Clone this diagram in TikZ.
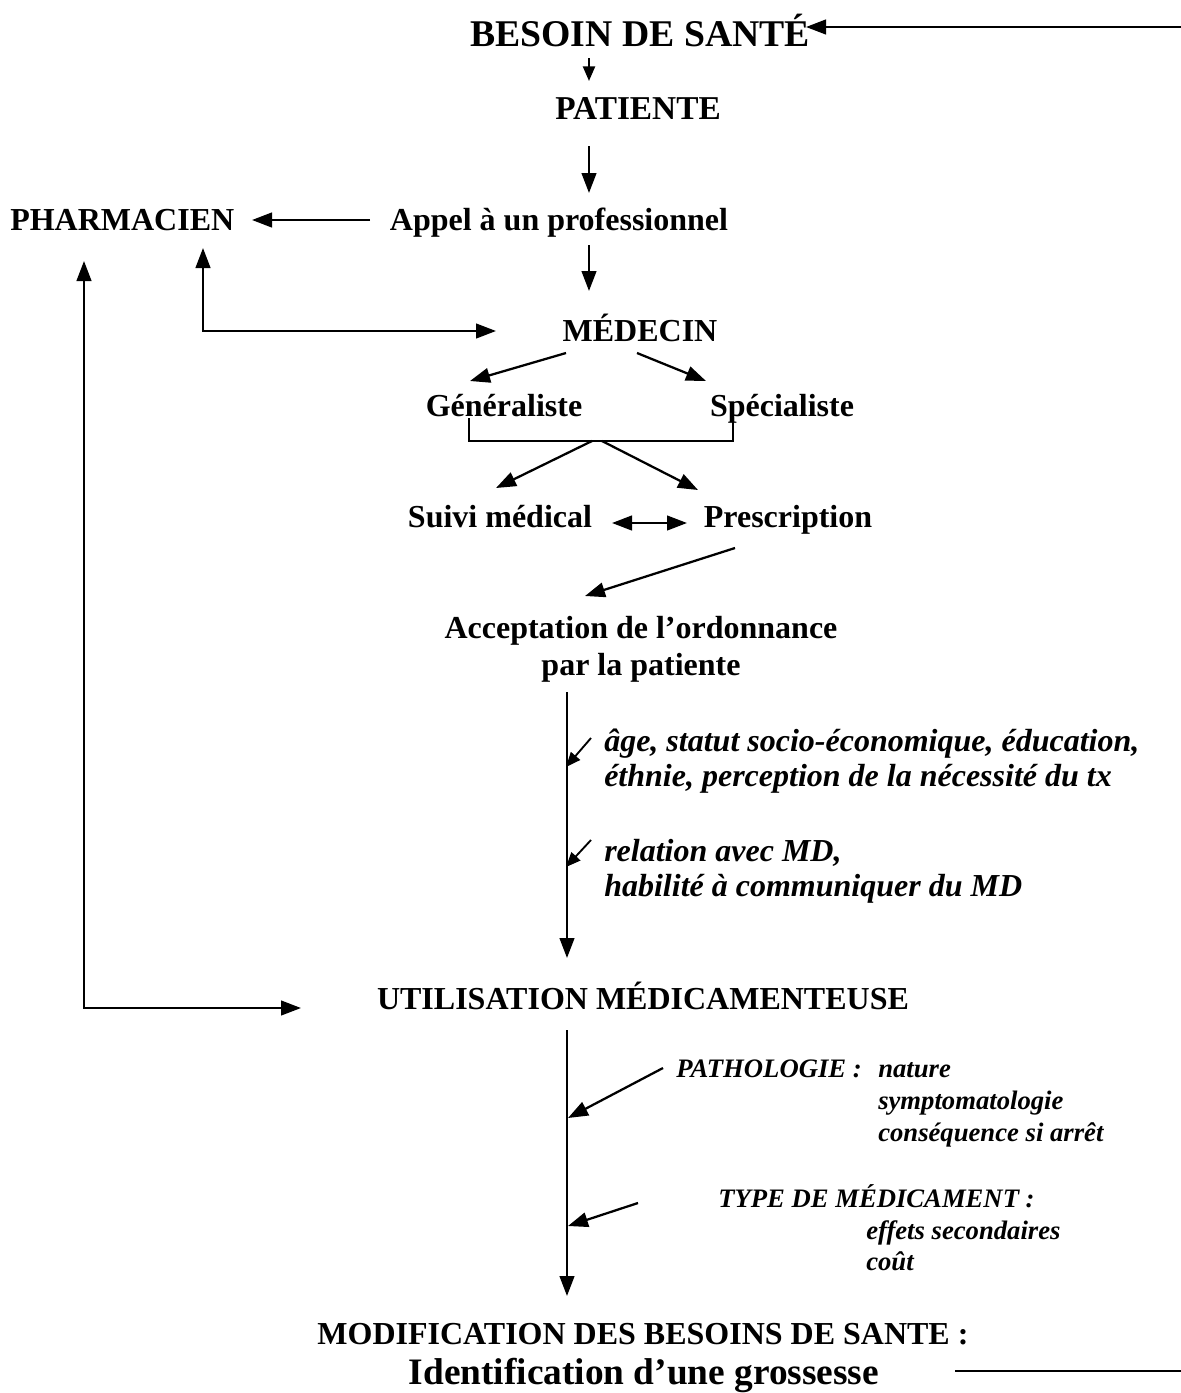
\documentclass[tikz,border=0pt]{standalone}
\usepackage{fontspec}
\setmainfont{Liberation Serif}
\usetikzlibrary{arrows.meta}
\begin{document}
\begin{tikzpicture}[x=0.75pt,y=-0.75pt,
  lbl/.style={inner sep=0pt, anchor=base, font=\bfseries\fontsize{24}{28}\selectfont},
  lblw/.style={lbl, anchor=base west},
  itl/.style={inner sep=0pt, anchor=base west, font=\bfseries\itshape\fontsize{24}{28}\selectfont},
  sitl/.style={inner sep=0pt, anchor=base west, font=\bfseries\itshape\fontsize{20}{24}\selectfont},
  conn/.style={line width=1.7pt},
  arr/.style={conn, -{Triangle[length=15pt,width=11pt]}},
  sarr/.style={conn, -{Triangle[length=11pt,width=9pt]}},
  darr/.style={conn, {Triangle[length=15pt,width=11pt]}-{Triangle[length=15pt,width=11pt]}}
]
\useasboundingbox (0,0) rectangle (1181,1393);
\fill[white] (0,0) rectangle (1181,1393);

% nodes
\node[lbl, font=\bfseries\fontsize{28.3}{33}\selectfont] (besoin) at (640,46) {BESOIN DE SANTÉ};
\node[lbl, font=\bfseries\fontsize{25}{29}\selectfont] (patiente) at (638,119) {PATIENTE};
\node[lbl] (appel) at (559,230) {Appel à un professionnel};
\node[lblw] (pharm) at (10,230) {PHARMACIEN};
\node[lbl] (medecin) at (640,341) {MÉDECIN};
\node[lbl] (gen) at (504,416) {Généraliste};
\node[lbl] (spec) at (782,416) {Spécialiste};
\node[lbl] (suivi) at (500,527) {Suivi médical};
\node[lbl] (presc) at (788,527) {Prescription};
\node[lbl] (accept) at (641,638) {Acceptation de l’ordonnance};
\node[lbl] (accept2) at (641,675) {par la patiente};
\node[itl] (f1) at (604,751) {âge, statut socio-économique, éducation,};
\node[itl] (f1b) at (604,786) {éthnie, perception de la nécessité du tx};
\node[itl] (f2) at (604,861) {relation avec MD,};
\node[itl] (f2b) at (604,896) {habilité à communiquer du MD};
\node[lbl] (util) at (643,1009) {UTILISATION MÉDICAMENTEUSE};
\node[sitl] (patho) at (676,1077) {PATHOLOGIE :};
\node[sitl] (p1) at (878,1077) {nature};
\node[sitl] (p2) at (878,1109) {symptomatologie};
\node[sitl] (p3) at (878,1141) {conséquence si arrêt};
\node[sitl] (type) at (718,1207) {TYPE DE MÉDICAMENT :};
\node[sitl] (t1) at (866,1239) {effets secondaires};
\node[sitl] (t2) at (866,1270) {coût};
\node[lbl] (modif) at (643,1344) {MODIFICATION DES BESOINS DE SANTE :};
\node[lbl, font=\bfseries\fontsize{28}{32}\selectfont] (ident) at (644,1384) {Identification d’une grossesse};

% coordinates for connector ends
\coordinate (topR) at (1181,27);
\coordinate (topT) at (806,27);
\coordinate (botR) at (1181,1371);
\coordinate (botL) at (955,1371);
\coordinate (b1) at (589,58);
\coordinate (b2) at (589,81);
\coordinate (p1s) at (589,146);
\coordinate (p1e) at (589,193);
\coordinate (ap1) at (370,220);
\coordinate (ap2) at (252,220);
\coordinate (ad1) at (589,245);
\coordinate (ad2) at (589,291);
\coordinate (ph1) at (203,248);
\coordinate (ph2) at (203,331);
\coordinate (ph3) at (496,331);
\coordinate (lf1) at (84,261);
\coordinate (lf2) at (84,1008);
\coordinate (lf3) at (301,1008);
\coordinate (m1) at (566,353);
\coordinate (m2) at (470,381);
\coordinate (m3) at (637,353);
\coordinate (m4) at (706,381);
\coordinate (brL) at (469,418);
\coordinate (brR) at (733,418);
\coordinate (brY) at (600,441);
\coordinate (bc) at (592,441);
\coordinate (bs) at (496,488);
\coordinate (bc2) at (602,441);
\coordinate (bp) at (698,490);
\coordinate (sp1) at (612,523);
\coordinate (sp2) at (687,523);
\coordinate (pa1) at (735,548);
\coordinate (pa2) at (585,596);
\coordinate (v1s) at (567,692);
\coordinate (v1e) at (567,958);
\coordinate (s1a) at (591,738);
\coordinate (s1b) at (566,767);
\coordinate (s2a) at (591,840);
\coordinate (s2b) at (566,867);
\coordinate (v2s) at (567,1030);
\coordinate (v2e) at (567,1296);
\coordinate (pt1) at (663,1068);
\coordinate (pt2) at (568,1118);
\coordinate (ty1) at (638,1203);
\coordinate (ty2) at (568,1226);

% connectors
\draw[arr] (topR) -- (topT);
\draw[conn] (botL) -- (botR);
\draw[sarr] (b1) -- (b2);
\draw[arr] (p1s) -- (p1e);
\draw[arr] (ap1) -- (ap2);
\draw[arr] (ad1) -- (ad2);
\draw[darr] (ph1) -- (ph2) -- (ph3);
\draw[darr] (lf1) -- (lf2) -- (lf3);
\draw[arr] (m1) -- (m2);
\draw[arr] (m3) -- (m4);
\draw[line width=1.3pt] (brL) |- (brY) -| (brR);
\draw[arr] (bc) -- (bs);
\draw[arr] (bc2) -- (bp);
\draw[darr] (sp1) -- (sp2);
\draw[arr] (pa1) -- (pa2);
\draw[arr] (v1s) -- (v1e);
\draw[sarr, line width=1.4pt] (s1a) -- (s1b);
\draw[sarr, line width=1.4pt] (s2a) -- (s2b);
\draw[arr] (v2s) -- (v2e);
\draw[arr] (pt1) -- (pt2);
\draw[arr] (ty1) -- (ty2);
\end{tikzpicture}
\end{document}
